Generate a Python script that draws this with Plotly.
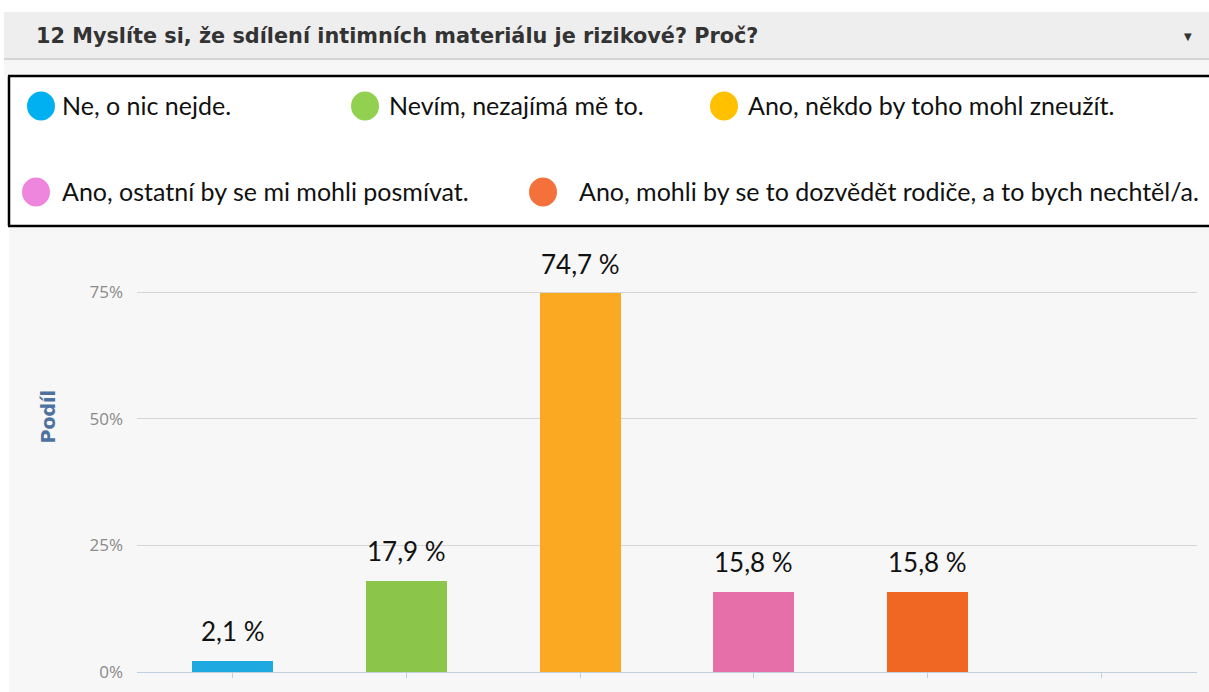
import plotly.graph_objects as go

W = 1209
REF_H = 692      # reference picture height
H = 703          # figure height (page is photographed with a slight vertical squeeze)

# ---- data ----
categories = [
    "Ne, o nic nejde.",
    "Nevím, nezajímá mě to.",
    "Ano, někdo by toho mohl zneužít.",
    "Ano, ostatní by se mi mohli posmívat.",
    "Ano, mohli by se to dozvědět rodiče, a to bych nechtěl/a.",
]
values = [2.1, 17.9, 74.7, 15.8, 15.8]
value_labels = ["2,1 %", "17,9 %", "74,7 %", "15,8 %", "15,8 %"]
bar_colors = ["#1eaae0", "#8bc64a", "#fba823", "#e76fa9", "#f06724"]
legend_colors = ["#00b0f0", "#92d050", "#ffc000", "#ee86de", "#f4713b"]
y_ticks = [0, 25, 50, 75]
y_tick_labels = ["0%", "25%", "50%", "75%"]
title = "12 Myslíte si, že sdílení intimních materiálu je rizikové? Proč?"
y_title = "Podíl"


def px(x):
    return x / W


def py(y):
    return 1 - y / REF_H


fig = go.Figure()
xs = list(range(len(values)))
fig.add_trace(go.Bar(
    x=xs, y=values, marker=dict(color=bar_colors, line=dict(width=0)),
    width=0.467, hoverinfo="skip", showlegend=False,
))

shapes = []
annotations = []


def hline(x0, x1, y, color, width):
    shapes.append(dict(type="line", xref="paper", yref="paper", x0=px(x0), x1=px(x1),
                       y0=py(y), y1=py(y), line=dict(color=color, width=width), layer="below"))


def rect(x0, x1, y0, y1, fill):
    shapes.append(dict(type="rect", xref="paper", yref="paper", x0=px(x0), x1=px(x1),
                       y0=py(y1), y1=py(y0), fillcolor=fill, line=dict(width=0), layer="below"))


# header bar
rect(4, W, 12, 58, "#eeeeee")
hline(4, W, 59, "#d4d4d4", 2)
# light page background below header
rect(4, W, 60, 76, "#f7f7f7")
# chart background
rect(9, W, 228, REF_H, "#f7f7f7")
# legend box (right edge runs off the page)
rect(9, W, 76, 226, "#ffffff")
hline(8, W, 76, "#000000", 2.5)
hline(8, W, 226, "#000000", 2.5)
shapes.append(dict(type="line", xref="paper", yref="paper", x0=px(9), x1=px(9),
                   y0=py(76), y1=py(226), line=dict(color="#000000", width=2.5), layer="below"))

annotations.append(dict(text="<b>" + title + "</b>", xref="paper", yref="paper", x=px(34), y=py(36),
                        xanchor="left", yanchor="middle", showarrow=False,
                        font=dict(family="DejaVu Sans", size=20.8, color="#333333")))
annotations.append(dict(text="▼", xref="paper", yref="paper", x=px(1188), y=py(36),
                        xanchor="center", yanchor="middle", showarrow=False,
                        font=dict(family="DejaVu Sans", size=10, color="#333333")))

# legend entries (circle center x, text x, row y)
legend_pos = [(41, 60, 106), (365, 387, 106), (724, 746, 106), (36, 60, 192), (543, 577, 192)]
for (cx, tx, cy), lab, col in zip(legend_pos, categories, legend_colors):
    shapes.append(dict(type="circle", xref="paper", yref="paper",
                       x0=px(cx - 14), x1=px(cx + 14), y0=py(cy + 14.5), y1=py(cy - 14.5),
                       fillcolor=col, line=dict(width=0)))
    annotations.append(dict(text=lab, xref="paper", yref="paper", x=px(tx), y=py(cy - 1),
                            xanchor="left", yanchor="middle", showarrow=False,
                            font=dict(family="Lato", size=25, color="#111111")))

# value labels
for x, v, lab in zip(xs, values, value_labels):
    annotations.append(dict(text=lab, x=x, y=v, xref="x", yref="y", xanchor="center",
                            yanchor="bottom", yshift=12, showarrow=False,
                            font=dict(family="Lato", size=26, color="#111111")))

# y title
annotations.append(dict(text="<b>" + y_title + "</b>", xref="paper", yref="paper", x=px(47.5), y=py(417),
                        xanchor="center", yanchor="middle", textangle=-90, showarrow=False,
                        font=dict(family="DejaVu Sans", size=19, color="#4e72a0")))

fig.update_layout(
    width=W, height=H, margin=dict(l=0, r=0, t=0, b=0),
    paper_bgcolor="#ffffff", plot_bgcolor="rgba(0,0,0,0)",
    shapes=shapes, annotations=annotations, bargap=0,
    xaxis=dict(domain=[px(137), px(1197)], range=[-0.55, 5.55], tickvals=list(range(6)),
               showticklabels=False, ticks="outside", ticklen=5, tickcolor="#c0d0e0",
               showline=True, linecolor="#c0d0e0", linewidth=1, showgrid=False, zeroline=False,
               fixedrange=True),
    yaxis=dict(domain=[py(672), py(672 - 85 * 380 / 75)], range=[0, 85], tickvals=y_ticks,
               ticktext=y_tick_labels, showgrid=True, gridcolor="#d6d6d6", gridwidth=1,
               zeroline=False, ticks="", ticklabelstandoff=13,
               tickfont=dict(family="Open Sans", size=17, color="#8a8a8a"), fixedrange=True),
)

css = ("document.documentElement.style.margin='0';document.documentElement.style.overflow='hidden';"
       "document.body.style.margin='0';document.body.style.overflow='hidden';")
fig.write_html("out.html", post_script=css, config={"displayModeBar": False})
